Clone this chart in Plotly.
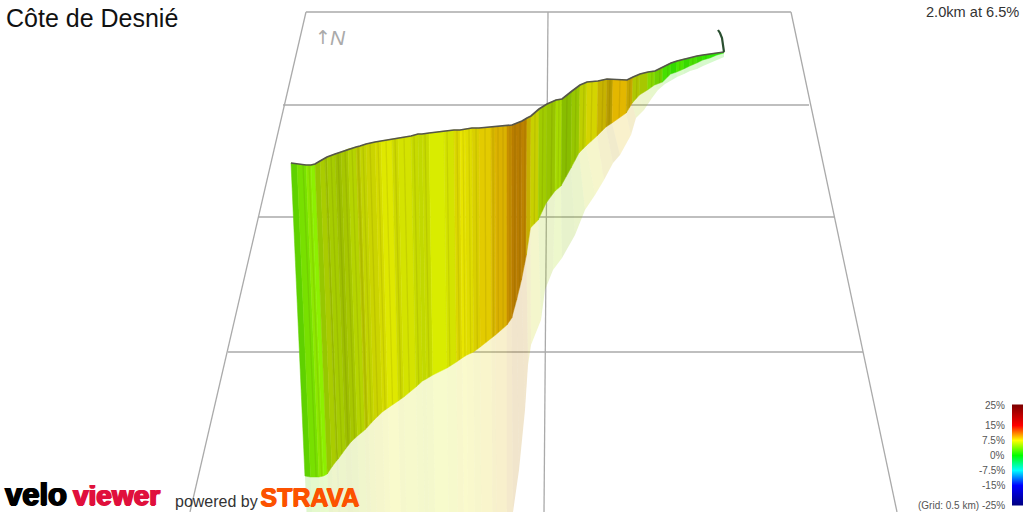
import numpy as np
import plotly.graph_objects as go

# Route samples (screen-projected)
track_x = [291,297,306,311,315,320,325,327,335,341,348,356,360,366,375,381,392,398,411,418,422,429,444,454,460,465,472,479,491,495,507,512,517,522,527,531,539,547,556,562,572,580,587,598,607,613,627,633,640,648,655,663,671,677,684,690,697,703,710,717,724]
track_top = [163,164,165,165,164,161,158,157,154,152,149,147,146,144,142,141,139,138,136,134,134,133,131,130,130,129,128,128,127,127,126,125,123,121,118,116,109,104,100,99,91,85,82,81,79,79.5,80,77,74,72,71,67,63,61,59,58,56,55,54,53,52]
track_base = [476,477,477,476,474,467,461,459,449,442,436,430,426,420,412,408,401,397,387,381,379,375,368,362,358,355,352,347,338,335,325,318,300,280,255,228,220,203,191,186,168,153,146,136,127,123,113,103,95,90,85,82,74,72,69,66,63,60,58,55,53]
shadow_x = [312,318,326,330,333,338,343,345,351,357,363,370,374,380,388,393,404,409,421,427,431,437,450,459,465,469,476,482,493,497,507,513,519,525,528,531,541,545,553,562,575,585,595,604,613,620,631,636,644,652,658,665,672,677,684,690,697,703,710,717,724]
shadow_y = [640,640,640,640,640,640,640,640,640,640,640,640,640,640,640,640,640,640,640,640,640,640,640,640,640,640,640,640,640,640,640,512,470,410,365,345,320,290,270,258,235,210,195,180,163,155,135,118,110,98,90,84,80,77,74,71,69,66,63,60,57]
grade = [3.4,4.0,4.6,4.4,5.7,6.2,6.2,6.1,6.2,6.3,6.4,7.0,6.9,7.2,7.3,7.2,7.1,7.0,6.8,6.7,6.8,6.9,7.0,7.65,7.6,7.6,7.8,8.3,8.6,8.9,9.6,9.9,9.9,9.8,8.4,7.2,5.9,5.8,5.7,5.4,5.7,6.9,7.5,8.25,8.6,8.95,8.7,6.6,6.3,4.7,4.0,2.3,1.8,2.5,1.9,2.4,2.0,1.6,1.4,1.2]
light = [.82,.88,.91,.94,.78,.80,.72,.80,.75,.78,.83,.78,.83,.83,.86,.91,.85,.89,.86,.85,.86,.925,.89,.86,.91,.88,.85,.89,.85,.86,.78,.72,.72,.74,.78,.815,.80,.77,.86,.74,.78,.815,.83,.78,.72,.89,.78,.78,.78,.85,.82,.88,.85,.90,.85,.88,.85,.90,.90,.92]
crease_x = [303,309,331,338,345,352,358,363,370,378,386,395,404,414,425,447,457,463,469,476,485,493,498,503,510,515,520,525,535,543,552,559,567,576,584,592,603,610,620,630,637,652,660,668,680,693,706]
tail_x = [724,723,722,720,718]
tail_y = [52,43,38,33,30]

# Ground grid
grid_h_y = [12,105,217,352]
grid_h_left = [306,283,259,228]
grid_h_right = [791,809,835,863]
grid_v_top = [306,548,791]
grid_v_bottom = [190,544,897]
grid_v_y = [12,512]

# Gradient legend
legend_grades = [25,15,7.5,0,-7.5,-15,-25]
legend_labels = ["25%","15%","7.5%","0%","-7.5%","-15%","(Grid: 0.5 km) -25%"]
legend_colors = ["#800000","#ff0000","#ffff00","#00ff00","#00ffff","#0000ff","#000080"]

title = "Côte de Desnié"
summary = "2.0km at 6.5%"

stops = sorted(zip(legend_grades, legend_colors))


def rgb(h):
    return [int(h[i:i + 2], 16) for i in (1, 3, 5)]


def grade_rgb(g):
    for (g0, c0), (g1, c1) in zip(stops, stops[1:]):
        if g0 <= g <= g1:
            t = (g - g0) / (g1 - g0)
            return [a + (b - a) * t for a, b in zip(rgb(c0), rgb(c1))]
    return rgb(stops[-1][1])


def lean(x, top, y):
    return x + (505 - x) * (y - top) / 4800


base_x = [lean(x, t, b) for x, t, b in zip(track_x, track_top, track_base)]

fig = go.Figure()

# Grid
for y, a, b in zip(grid_h_y, grid_h_left, grid_h_right):
    fig.add_trace(go.Scatter(x=[a, b], y=[y, y], mode="lines", line=dict(color="#aaaaaa", width=1.3), hoverinfo="skip"))
for a, b in zip(grid_v_top, grid_v_bottom):
    fig.add_trace(go.Scatter(x=[a, b], y=grid_v_y, mode="lines", line=dict(color="#aaaaaa", width=1.3), hoverinfo="skip"))

# Shadow strips
for i in range(len(grade)):
    r, g, b = grade_rgb(grade[i])
    r, g, b = r * light[i], g * light[i], b * light[i]
    fig.add_trace(go.Scatter(
        x=[base_x[i], base_x[i + 1], shadow_x[i + 1], shadow_x[i], base_x[i]],
        y=[track_base[i], track_base[i + 1], shadow_y[i + 1], shadow_y[i], track_base[i]],
        mode="lines", fill="toself", line=dict(width=0),
        fillcolor=f"rgba({r:.0f},{g:.0f},{b:.0f},0.2)", hoverinfo="skip"))

# Wall strips
for i in range(len(grade)):
    r, g, b = grade_rgb(grade[i])
    c = f"rgb({r * light[i]:.0f},{g * light[i]:.0f},{b * light[i]:.0f})"
    fig.add_trace(go.Scatter(
        x=[track_x[i], track_x[i + 1], base_x[i + 1], base_x[i], track_x[i]],
        y=[track_top[i], track_top[i + 1], track_base[i + 1], track_base[i], track_top[i]],
        mode="lines", fill="toself", line=dict(width=0.5, color=c), fillcolor=c, hoverinfo="skip"))

# Thin creases between road samples
for cx in crease_x:
    t = float(np.interp(cx, track_x, track_top))
    b = float(np.interp(cx, track_x, track_base))
    fig.add_trace(go.Scatter(x=[cx, lean(cx, t, b)], y=[t, b], mode="lines",
                             line=dict(color="rgba(70,60,0,0.10)", width=1.3), hoverinfo="skip"))

# Road edge and tail
fig.add_trace(go.Scatter(x=track_x, y=track_top, mode="lines", line=dict(color="#55554a", width=1.7), hoverinfo="skip"))
fig.add_trace(go.Scatter(x=tail_x, y=tail_y, mode="lines", line=dict(color="#2a4f30", width=2.2), hoverinfo="skip"))

# Legend bar
legend_steps = [25 - 0.5 * k for k in range(101)]
fig.add_trace(go.Heatmap(
    x=[1012, 1023], y=[455 - 2 * v for v in legend_steps], z=[[v] for v in legend_steps],
    zmin=-25, zmax=25, showscale=False, hoverinfo="skip",
    colorscale=[[(g + 25) / 50, c] for g, c in stops], xgap=0, ygap=0))


def note(x, y, text, size, color, anchor="left", family="Liberation Sans", **font):
    fig.add_annotation(x=x, y=y, xref="x", yref="y", text=text, showarrow=False, xanchor=anchor, yanchor="middle",
                       font=dict(family=family, size=size, color=color, **font))


note(4, 18, title, 25, "#111111")
note(1021, 12, summary, 14.6, "#333333", anchor="right")
note(313, 37, "↑", 19, "#aaaaaa", family="DejaVu Sans")
note(328, 37, "<i>N</i>", 21, "#aaaaaa")
for v, t in zip(legend_grades, legend_labels):
    note(1007, 455 - 2 * v, t, 10, "#555555", anchor="right")
note(3, 494, "<b>velo</b>", 31, "#000000", shadow="1px 0 0 #000000, -1px 0 0 #000000, 0 1px 0 #000000")
note(71, 495, "<b>viewer</b>", 28, "#e0103c", shadow="1px 0 0 #e0103c, -1px 0 0 #e0103c, 0 1px 0 #e0103c")
note(173, 501, "powered by", 16, "#333333")
note(258, 497, "<b>STRAVA</b>", 25, "#fc5200", shadow="1px 0 0 #fc5200, 0 1px 0 #fc5200")

fig.update_layout(
    width=1024, height=512, margin=dict(l=0, r=0, t=0, b=0), showlegend=False,
    paper_bgcolor="white", plot_bgcolor="white",
    xaxis=dict(range=[0, 1024], visible=False, fixedrange=True),
    yaxis=dict(range=[512, 0], visible=False, fixedrange=True))
fig.write_html("out.html", config=dict(displayModeBar=False), post_script="document.body.style.margin='0';")
